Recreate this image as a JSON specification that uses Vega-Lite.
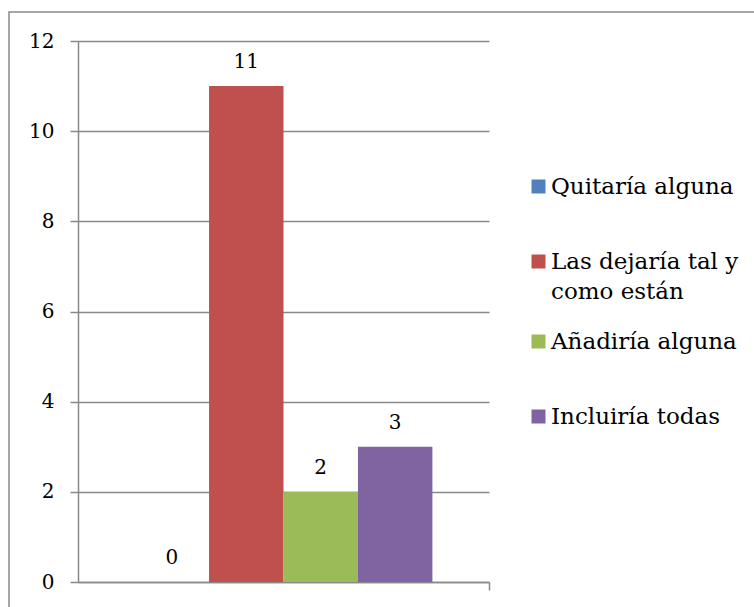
{
  "$schema": "https://vega.github.io/schema/vega-lite/v6.json",
  "width": 760,
  "height": 600,
  "autosize": "none",
  "padding": {"left": 9, "top": 12, "right": 0, "bottom": 0},
  "background": "white",
  "config": {
    "view": {"stroke": "#898989", "strokeWidth": 1.5},
    "font": "DejaVu Serif",
    "style": {"guide-label": {"lineHeight": 30}}
  },
  "data": {
    "values": [
      {"grupo": "Total", "respuesta": "Quitaría alguna", "valor": 0},
      {"grupo": "Total", "respuesta": "Las dejaría tal y como están", "valor": 11},
      {"grupo": "Total", "respuesta": "Añadiría alguna", "valor": 2},
      {"grupo": "Total", "respuesta": "Incluiría todas", "valor": 3}
    ]
  },
  "encoding": {
    "x": {
      "field": "grupo",
      "type": "nominal",
      "scale": {"range": [69, 480], "paddingInner": 0, "paddingOuter": 0.19},
      "axis": {
        "title": null,
        "labels": false,
        "orient": "bottom",
        "offset": -30,
        "bandPosition": 1.19,
        "tickSize": 8,
        "tickColor": "#898989",
        "tickWidth": 1.5,
        "domainColor": "#898989",
        "domainWidth": 1.5
      }
    },
    "xOffset": {
      "field": "respuesta",
      "type": "nominal",
      "sort": ["Quitaría alguna", "Las dejaría tal y como están", "Añadiría alguna", "Incluiría todas"],
      "scale": {"paddingInner": 0, "paddingOuter": 0}
    },
    "y": {
      "field": "valor",
      "type": "quantitative",
      "scale": {"domain": [0, 12], "range": [570, 29], "nice": false, "zero": true},
      "axis": {
        "title": null,
        "offset": -69,
        "values": [0, 2, 4, 6, 8, 10, 12],
        "grid": true,
        "gridColor": "#898989",
        "gridWidth": 1.5,
        "domainColor": "#898989",
        "domainWidth": 1.5,
        "tickColor": "#898989",
        "tickWidth": 1.5,
        "tickSize": 8,
        "labelPadding": 16,
        "labelFontSize": 20,
        "labelFont": "DejaVu Serif",
        "labelColor": "black"
      }
    }
  },
  "layer": [
    {
      "mark": {"type": "bar"},
      "encoding": {
        "color": {
          "field": "respuesta",
          "type": "nominal",
          "sort": ["Quitaría alguna", "Las dejaría tal y como están", "Añadiría alguna", "Incluiría todas"],
          "scale": {"range": ["#4F81BD", "#C0504D", "#9BBB59", "#8064A2"]},
          "legend": {
            "orient": "none",
            "legendX": 518,
            "legendY": 137,
            "title": null,
            "padding": 0,
            "symbolType": "square",
            "symbolSize": 196,
            "symbolStrokeWidth": 0,
            "labelFontSize": 23,
            "labelFont": "DejaVu Serif",
            "labelColor": "black",
            "labelOffset": 1,
            "labelLimit": 400,
            "clipHeight": 75,
            "rowPadding": 0,
            "labelExpr": "datum.label == 'Las dejaría tal y como están' ? ['Las dejaría tal y', 'como están'] : datum.label"
          }
        }
      }
    },
    {
      "mark": {"type": "text", "dy": -24, "baseline": "middle", "fontSize": 20, "font": "DejaVu Serif", "color": "black"},
      "encoding": {"text": {"field": "valor", "type": "quantitative"}}
    }
  ]
}
